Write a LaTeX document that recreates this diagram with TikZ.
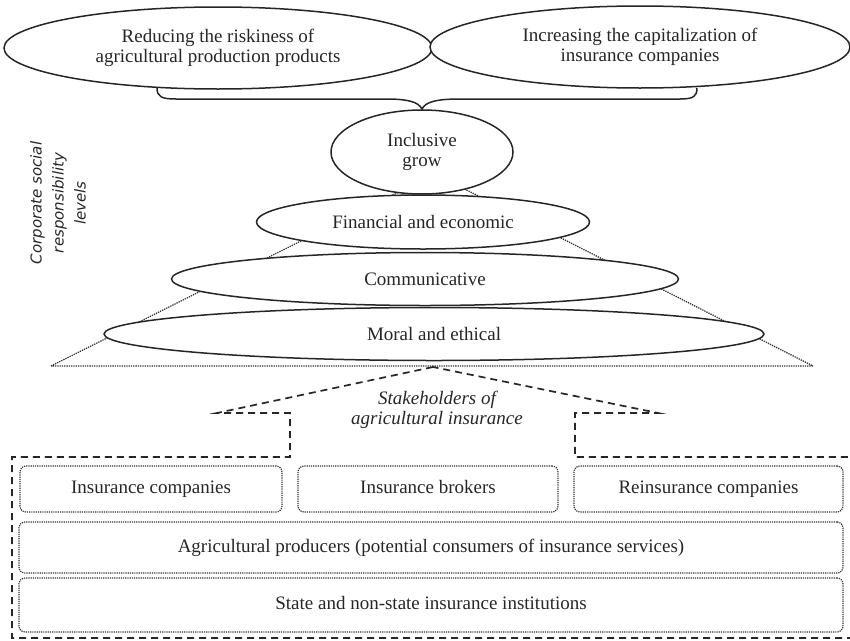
\documentclass[tikz,border=0pt]{standalone}
\usepackage{fontspec}
\setmainfont{Liberation Serif}
\newfontfamily\sidefont{DejaVu Sans}
\usetikzlibrary{shapes.geometric}

\begin{document}
\begin{tikzpicture}[x=1pt,y=-1pt,
  oval/.style={ellipse, draw=black!85, line width=1.5pt, fill=white, inner sep=0pt,
    align=center, text=black!85, font=\fontsize{19}{19.5}\selectfont},
  pyr/.style={densely dotted, line width=1.3pt, draw=black!80},
  bracket/.style={draw=black!85, line width=1.5pt},
  frame/.style={dash pattern=on 7pt off 5pt, line width=1.7pt, draw=black!85},
  party/.style={draw=black!80, densely dotted, line width=1.2pt, rounded corners=6pt,
    align=center, inner sep=0pt, text=black!85, text height=13pt, text depth=4pt,
    font=\fontsize{19}{22}\selectfont},
  caption/.style={align=center, text=black!85, inner sep=0pt}
]
\useasboundingbox (0,0) rectangle (850,640);

% pyramid outline behind the level ellipses
\coordinate (pl) at (51,366);
\coordinate (pr) at (813,366);
\coordinate (apex) at (435,174);
\draw[pyr] (pl) -- (apex) -- (pr) -- cycle;

% goals
\node[oval, minimum width=428pt, minimum height=82pt] (risk) at (218,48)
  {Reducing the riskiness of\\agricultural production products};
\node[oval, minimum width=420pt, minimum height=82pt] (capital) at (640,47)
  {Increasing the capitalization of\\insurance companies};

% levels of corporate social responsibility
\node[oval, minimum width=182pt, minimum height=84pt] (incl) at (422,152)
  {Inclusive\\grow};
\node[oval, minimum width=333pt, minimum height=54pt] (fin) at (423,222)
  {Financial and economic};
\node[oval, minimum width=507pt, minimum height=53pt] (comm) at (425,279)
  {Communicative};
\node[oval, minimum width=660pt, minimum height=53pt] (moral) at (434,334)
  {Moral and ethical};

% brace joining the two goals into inclusive growth
\coordinate (bL) at (157,88);
\coordinate (bR) at (697,88);
\draw[bracket] (bL) .. controls (157,97) and (162,99) .. (176,99) -- (386,99)
  .. controls (408,99) and (419,102) .. (incl.north)
  .. controls (425,102) and (436,99) .. (460,99) -- (680,99)
  .. controls (694,99) and (697,96) .. (bR);

% side label
\node[caption, rotate=90, font=\sidefont\itshape\fontsize{15}{22}\selectfont] (side) at (58,203)
  {Corporate social\\responsibility\\levels};

% stakeholders frame
\coordinate (sA) at (433,367);
\coordinate (s1) at (217,413);
\coordinate (s2) at (290,413);
\coordinate (s3) at (290,457);
\coordinate (s4) at (12,457);
\coordinate (s5) at (12,638);
\coordinate (s6) at (853,638);
\coordinate (s7) at (853,457);
\coordinate (s8) at (575,457);
\coordinate (s9) at (575,413);
\coordinate (s10) at (658,413);
\draw[frame] (sA) -- (s1) -- (s2) -- (s3) -- (s4) -- (s5) -- (s6) -- (s7) -- (s8)
  -- (s9) -- (s10) -- cycle;

\node[caption, font=\itshape\fontsize{19}{20}\selectfont] (stake) at (437,410)
  {Stakeholders of\\agricultural insurance};

% stakeholder groups
\node[party, minimum width=262pt, minimum height=46pt] (ins) at (151,489)
  {Insurance companies};
\node[party, minimum width=260pt, minimum height=46pt] (brok) at (428,489)
  {Insurance brokers};
\node[party, minimum width=269pt, minimum height=46pt] (reins) at (708.5,489)
  {Reinsurance companies};
\node[party, minimum width=824pt, minimum height=51pt] (agri) at (431,547.5)
  {Agricultural producers (potential consumers of insurance services)};
\node[party, minimum width=824pt, minimum height=54pt] (state) at (431,605)
  {State and non-state insurance institutions};
\end{tikzpicture}
\end{document}
